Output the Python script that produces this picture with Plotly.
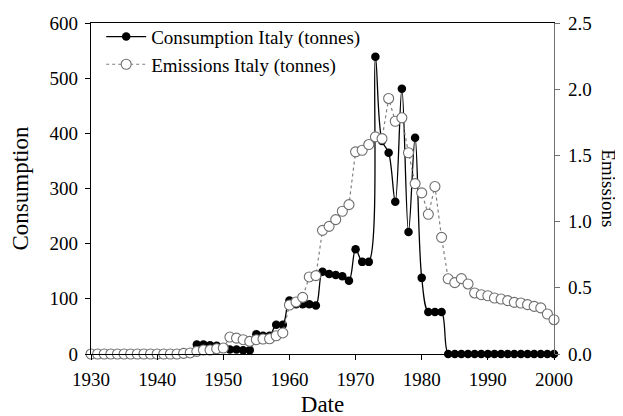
import plotly.graph_objects as go

years = list(range(1930, 2001))

cons_years = list(range(1946, 2001))
consumption = [17, 17, 16, 15, 10,
               8, 8, 7, 7,
               36, 33, 33, 53, 53,
               97,
               90, 90, 90, 88,
               149, 145, 143, 141, 133,
               190, 167, 167, 539, 386, 365, 276, 481, 221, 392, 138, 76, 76, 76,
               0, 0, 0, 0, 0, 0, 0, 0, 0, 0, 0, 0, 0, 0, 0, 0, 0]

emissions = [0, 0, 0, 0, 0, 0, 0, 0, 0, 0, 0, 0, 0, 0, 0.005, 0.008,
             0.02, 0.03, 0.03, 0.04, 0.045,
             0.128, 0.12, 0.108, 0.095, 0.108, 0.113, 0.115, 0.138, 0.159,
             0.37, 0.393, 0.428, 0.582, 0.592,
             0.934, 0.964, 1.015, 1.078, 1.128,
             1.527, 1.539, 1.582, 1.64, 1.627, 1.93, 1.758, 1.784, 1.52, 1.287,
             1.217, 1.055, 1.265, 0.881, 0.568, 0.539, 0.569, 0.529, 0.461, 0.448,
             0.44, 0.423, 0.415, 0.403, 0.39, 0.385, 0.373, 0.36, 0.348, 0.302, 0.259]

x_ticks = [1930, 1940, 1950, 1960, 1970, 1980, 1990, 2000]
y_ticks = [0, 100, 200, 300, 400, 500, 600]
y2_ticks = [0.0, 0.5, 1.0, 1.5, 2.0, 2.5]

FONT = "Liberation Serif"
FS = 19

fig = go.Figure()

fig.add_trace(go.Scatter(
    x=years, y=emissions, name="Emissions Italy (tonnes)", yaxis="y2",
    mode="lines+markers",
    line=dict(color="#808080", width=1.2, dash="dot"),
    marker=dict(symbol="circle", size=10, color="white",
                line=dict(color="#6e6e6e", width=1.1)),
    cliponaxis=False, legendrank=2,
))

fig.add_trace(go.Scatter(
    x=cons_years, y=consumption, name="Consumption Italy (tonnes)",
    mode="lines+markers",
    line=dict(color="black", width=1.3, shape="spline", smoothing=1.0),
    marker=dict(symbol="circle", size=8.5, color="black"),
    cliponaxis=False, legendrank=1,
))

# page body has an 8px margin, so margins are offset by 8px
fig.update_layout(
    width=623, height=416,
    margin=dict(l=83, r=77, t=15, b=70, autoexpand=False),
    paper_bgcolor="white", plot_bgcolor="white",
    font=dict(family=FONT, size=FS, color="black"),
    showlegend=True,
    legend=dict(x=0.022, y=1.016, xanchor="left", yanchor="top",
                bgcolor="rgba(0,0,0,0)", borderwidth=0,
                font=dict(family=FONT, size=19), tracegroupgap=0,
                itemwidth=40),
    xaxis=dict(range=[1930, 2000], tickvals=x_ticks, ticks="outside",
               ticklen=5, tickcolor="black", showline=True, linecolor="black",
               linewidth=1.2, mirror=True, showgrid=False, zeroline=False,
               automargin=False, ticklabelstandoff=3,
               title=dict(text="Date", standoff=6)),
    yaxis=dict(range=[0, 600], tickvals=y_ticks, ticks="outside", ticklen=5,
               tickcolor="black", showline=True, linecolor="black",
               linewidth=1.2, showgrid=False, zeroline=False,
               automargin=False, ticklabelstandoff=3,
               title=dict(text="Consumption", standoff=17)),
    yaxis2=dict(range=[0, 2.5], tickvals=y2_ticks,
                ticktext=["%.1f" % v for v in y2_ticks],
                overlaying="y", side="right", ticks="outside", ticklen=5,
                tickcolor="#707070", showline=True, linecolor="#707070",
                linewidth=1.2, showgrid=False, zeroline=False,
                automargin=False, ticklabelstandoff=4),
    annotations=[dict(text="Emissions", xref="paper", yref="paper",
                      x=1.117, y=0.5, xanchor="center", yanchor="middle",
                      textangle=90, showarrow=False,
                      font=dict(family=FONT, size=FS))],
)

fig.write_html("out.html")
